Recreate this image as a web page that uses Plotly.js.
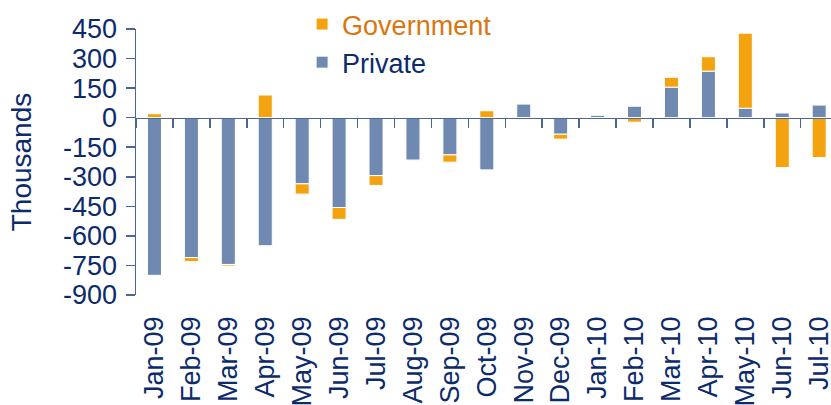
<!DOCTYPE html>
<html>
<head>
<meta charset="utf-8">
<script src="https://cdn.plot.ly/plotly-3.0.1.min.js"></script>
<style>html,body{margin:0;padding:0;background:#fff;}#chart{width:831px;height:405px;}</style>
</head>
<body>
<div id="chart"></div>
<script>
var months = ["Jan-09","Feb-09","Mar-09","Apr-09","May-09","Jun-09","Jul-09","Aug-09","Sep-09","Oct-09","Nov-09","Dec-09","Jan-10","Feb-10","Mar-10","Apr-10","May-10","Jun-10","Jul-10"];
var privateJobs = [-800,-710,-745,-650,-336,-456,-294,-216,-189,-265,69,-84,12,58,155,236,48,24,64];
var governmentJobs = [20,-20,-8,115,-52,-60,-50,-3,-37,35,-10,-25,-2,-23,50,73,381,-253,-202];
var yTicks = [450,300,150,0,-150,-300,-450,-600,-750,-900];

var navy = "#0c2b6b";
var axisCol = "#4a6699";
var font = "Arial, 'Liberation Sans', sans-serif";

var traces = [
  {type:"bar", name:"Private", x:months, y:privateJobs,
   marker:{color:"#7089b0", line:{color:"#ffffff", width:1}}, xaxis:"x", yaxis:"y"},
  {type:"bar", name:'<span style="color:#d9760f">Government</span>', x:months, y:governmentJobs,
   marker:{color:"#f3a30f", line:{color:"#ffffff", width:1}}, xaxis:"x", yaxis:"y"},
  {type:"scatter", mode:"markers", x:months, y:months.map(function(){return 0;}),
   marker:{opacity:0}, showlegend:false, hoverinfo:"skip", xaxis:"x2", yaxis:"y"}
];

var xr = [-0.5, 18.32];
var layout = {
  width:831, height:405,
  margin:{l:136, r:0, t:29, b:110, pad:0},
  paper_bgcolor:"#ffffff", plot_bgcolor:"rgba(0,0,0,0)",
  barmode:"relative", bargap:0.62,
  font:{family:font, size:27, color:navy},
  showlegend:true,
  legend:{traceorder:"reversed", x:0.239, xanchor:"left", y:1.111, yanchor:"top",
    font:{family:font, size:27, color:navy}, bgcolor:"rgba(0,0,0,0)", tracegroupgap:0},
  xaxis:{type:"category", categoryorder:"array", categoryarray:months, range:xr,
    anchor:"free", position:900/1350, showline:true, linecolor:axisCol, linewidth:1.5,
    ticks:"outside", tickson:"boundaries", ticklen:9, tickcolor:axisCol, tickwidth:1.5,
    showticklabels:false, showgrid:false, zeroline:false, fixedrange:true},
  xaxis2:{type:"category", categoryorder:"array", categoryarray:months, matches:"x",
    overlaying:"x", anchor:"y", side:"bottom", showline:false, ticks:"",
    showticklabels:true, tickangle:-90, ticklabelstandoff:15,
    tickfont:{family:font, size:27, color:navy}, showgrid:false, zeroline:false},
  yaxis:{range:[-900,450], tickvals:yTicks, ticktext:yTicks.map(String),
    showline:true, linecolor:axisCol, linewidth:1.5, ticks:"outside", ticklen:9,
    tickcolor:axisCol, tickwidth:1.5, showgrid:false, zeroline:false,
    ticklabelstandoff:3, tickfont:{family:font, size:27, color:navy},
    title:{text:"Thousands", font:{family:font, size:28, color:navy}, standoff:23}}
};

Plotly.newPlot("chart", traces, layout, {displayModeBar:false, staticPlot:true});
</script>
</body>
</html>
